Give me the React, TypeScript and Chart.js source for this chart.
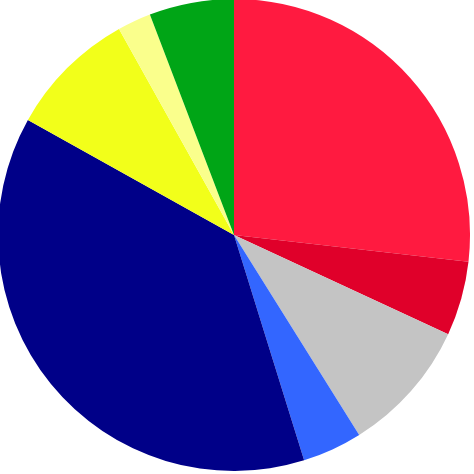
import React, { useEffect, useRef } from "react";
import { Chart, registerables } from "chart.js";

Chart.register(...registerables);

const labels = ["A", "B", "C", "D", "E", "F", "G", "H"];
const values = [26.8, 5.1, 9.2, 4.1, 37.9, 8.8, 2.3, 5.8];
const colors = ["#FF1A40", "#E0002A", "#C4C4C4", "#3366FF", "#000088", "#F2FF1A", "#FAFF8C", "#00A516"];

export default function App() {
  const ref = useRef<HTMLCanvasElement | null>(null);
  useEffect(() => {
    document.body.style.margin = "0";
    const chart = new Chart(ref.current!, {
      type: "pie",
      data: {
        labels,
        datasets: [{ data: values, backgroundColor: colors, borderWidth: 0 }],
      },
      options: {
        responsive: false,
        animation: false,
        layout: { padding: 0 },
        plugins: { legend: { display: false }, tooltip: { enabled: false } },
      },
    });
    return () => chart.destroy();
  }, []);
  return (
    <div style={{ position: "absolute", left: -3, top: -1, width: 474, height: 472 }}>
      <canvas ref={ref} width={474} height={472} style={{ width: 474, height: 472 }} />
    </div>
  );
}
